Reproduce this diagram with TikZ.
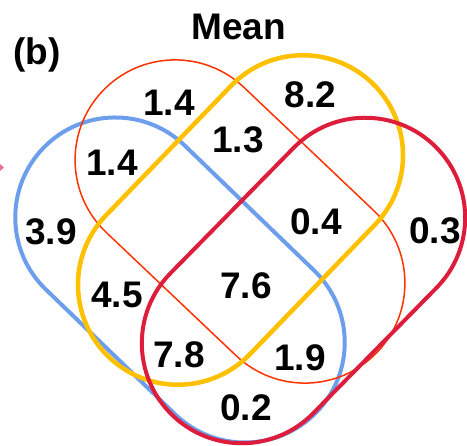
\documentclass[tikz,border=0pt]{standalone}
\usepackage{fontspec}
\setmainfont{Liberation Sans}
\definecolor{cblue}{HTML}{6D9EEB}
\definecolor{corange}{HTML}{FF3300}
\definecolor{cyellow}{HTML}{FFC000}
\definecolor{ccrimson}{HTML}{DC1E3C}
\definecolor{cpink}{HTML}{F07090}
\begin{document}
\begin{tikzpicture}[x=1pt,y=-1pt,
  lbl/.style={inner sep=0pt,font=\fontsize{37}{40}\selectfont\bfseries},
  stad/.style={rounded corners=100pt}]
\useasboundingbox (0,0) rectangle (467,446);
% blue
\begin{scope}[shift={(180,280)},rotate=-44]
  \draw[stad,cblue,line width=4pt] (-190,-100) rectangle (190,100);
\end{scope}
% orange-red
\begin{scope}[shift={(240,221.5)},rotate=-43.5]
  \draw[stad,corange,line width=1.5pt] (-189.5,-100) rectangle (189.5,100);
\end{scope}
% yellow
\begin{scope}[shift={(240.5,220)},rotate=46]
  \draw[stad,cyellow,line width=4.5pt] (-190,-100) rectangle (190,100);
\end{scope}
% crimson
\begin{scope}[shift={(303.5,280.5)},rotate=45.5]
  \draw[stad,ccrimson,line width=4pt] (-188,-100) rectangle (188,100);
\end{scope}
% pink mark at left edge
\fill[cpink] (0,164) -- (4,167.5) -- (0,171) -- cycle;
% labels
\node[lbl] (title) at (238.5,26.5) {Mean};
\node[lbl] (tag) at (37,55) {(b)};
\node[lbl] (a1) at (169,103) {1.4};
\node[lbl] (a2) at (238,140) {1.3};
\node[lbl] (a3) at (310.5,95) {8.2};
\node[lbl] (a4) at (112,163) {1.4};
\node[lbl] (a5) at (51,232) {3.9};
\node[lbl] (a6) at (316,222) {0.4};
\node[lbl] (a7) at (435,231) {0.3};
\node[lbl] (a8) at (117,295) {4.5};
\node[lbl] (a9) at (246,286) {7.6};
\node[lbl] (a10) at (179,355) {7.8};
\node[lbl] (a11) at (300,358) {1.9};
\node[lbl] (a12) at (246,408) {0.2};
\end{tikzpicture}
\end{document}
